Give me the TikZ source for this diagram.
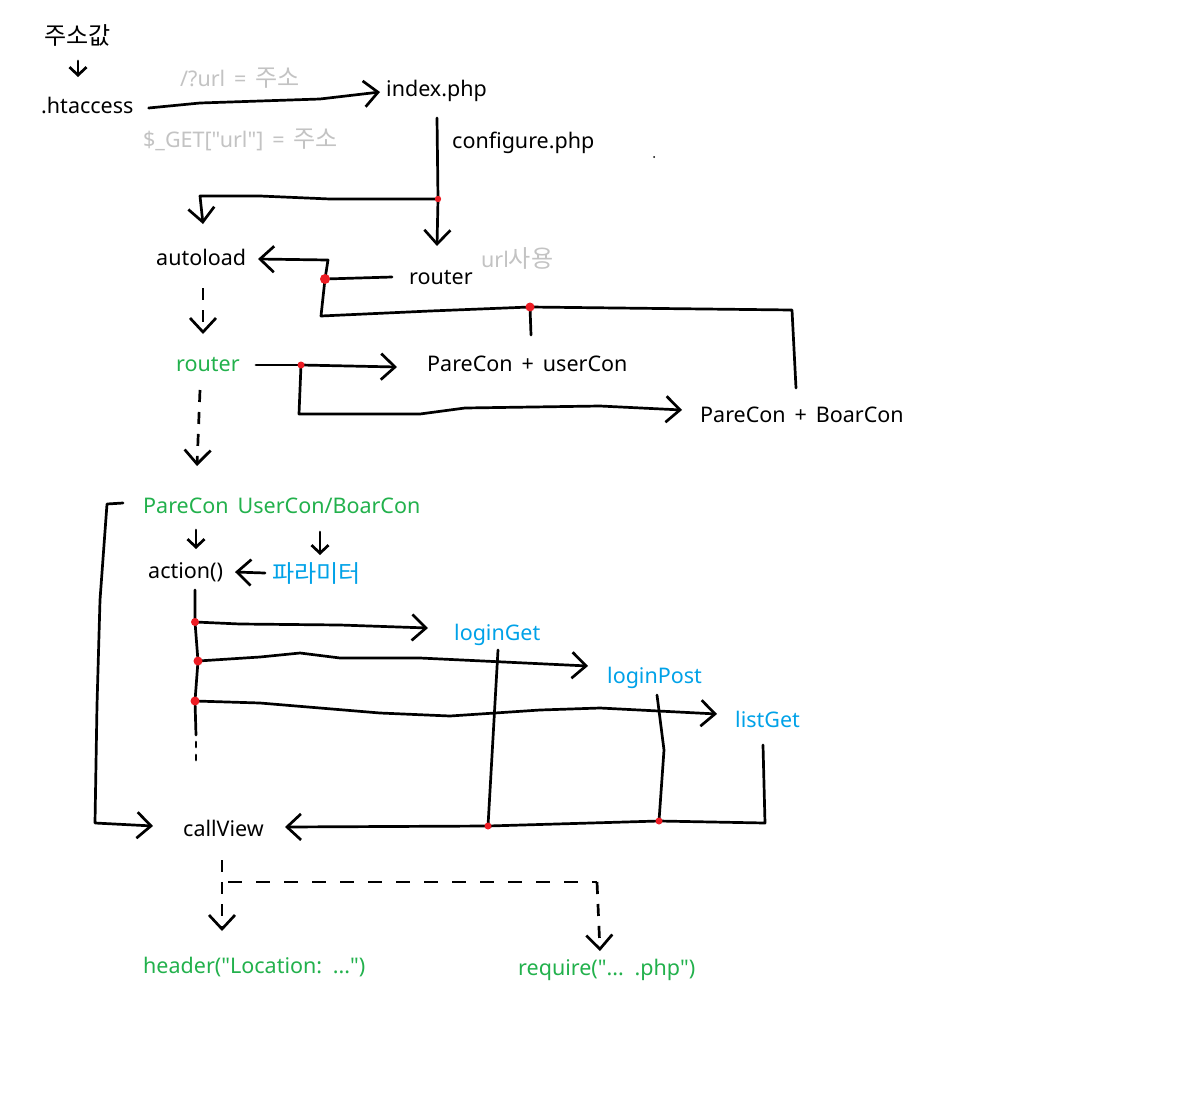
\documentclass[tikz,border=0pt]{standalone}
\usepackage{fontspec}
\setmainfont{Noto Sans}[WordSpace=1.6,Ligatures=TeXOff]
\newfontfamily\kr{Noto Sans CJK KR}[Scale=1.12]
\usetikzlibrary{arrows.meta}
\definecolor{pgreen}{HTML}{22B14C}
\definecolor{pblue}{HTML}{00A2E8}
\definecolor{pgray}{HTML}{C3C3C3}
\definecolor{pred}{HTML}{ED1C24}
\newcommand{\dq}{\char34\relax}
\tikzset{
  lbl/.style={anchor=west,inner sep=0pt,text height=15pt,text depth=5pt,yshift=-3pt,font=\fontsize{21.5}{25}\selectfont},
  wire/.style={line width=2.7pt,line join=round,line cap=round},
  arr/.style={wire,-{Straight Barb[length=14pt,width=26pt]}},
  sarr/.style={wire,-{Straight Barb[length=8pt,width=17pt]}},
  darr/.style={arr,dash pattern=on 12pt off 10pt,line cap=butt},
  jdot/.style={fill=pred,draw=none},
}
\begin{document}
\begin{tikzpicture}[x=1pt,y=-1pt]
\fill[white] (0,0) rectangle (1197,1114);
\useasboundingbox (0,0) rectangle (1197,1114);
% nodes
\node[lbl] (addr) at (44,36) {\kr 주소값};
\node[lbl] (hta) at (41,105) {.htaccess};
\node[lbl,text=pgray] (urlq) at (180,78) {/?url = {\kr 주소}};
\node[lbl,text=pgray] (get) at (143,139) {\$\_GET[\dq url\dq] = {\kr 주소}};
\node[lbl] (idx) at (386,88) {index.php};
\node[lbl] (conf) at (452,140) {configure.php};
\node[lbl] (auto) at (156,257) {autoload};
\node[lbl] (r1) at (409,276) {router};
\node[lbl,text=pgray] (urluse) at (481,259) {url{\kr 사용}};
\node[lbl,text=pgreen] (r2) at (176,363) {router};
\node[lbl] (puc) at (427,363) {PareCon + userCon};
\node[lbl] (pbc) at (700,414) {PareCon + BoarCon};
\node[lbl,text=pgreen] (pcb) at (143,505) {PareCon UserCon/BoarCon};
\node[lbl] (act) at (148,570) {action()};
\node[lbl,text=pblue] (param) at (272,574) {\kr 파라미터};
\node[lbl,text=pblue] (lg) at (454,632) {loginGet};
\node[lbl,text=pblue] (lp) at (607,675) {loginPost};
\node[lbl,text=pblue] (lsg) at (735,719) {listGet};
\node[lbl] (cv) at (183,828) {callView};
\node[lbl,text=pgreen] (hdr) at (143,965) {header(\dq Location: ...\dq)};
\node[lbl,text=pgreen] (req) at (518,967) {require(\dq... .php\dq)};
% junctions
\coordinate (J1) at (438,199);
\coordinate (J2) at (325,279);
\coordinate (J3) at (530,307);
\coordinate (J4) at (301,365);
\coordinate (K1) at (195,622);
\coordinate (K2) at (198,661);
\coordinate (K3) at (195,701);
\coordinate (L1) at (488,826);
\coordinate (L2) at (659,821);
\coordinate (E1) at (796,388);
\coordinate (E2) at (531,335);
\coordinate (D1) at (196,762);
\coordinate (M1) at (228,882);
% connectors
\draw[sarr] (78,61) -- (78,77);
\draw[arr] ([xshift=15pt]hta.east) -- (200,103) -- (260,101) -- (320,99) -- (380,92);
\draw[wire] (437,118) -- (J1);
\draw[arr] (J1) -- (437,246);
\draw[arr] (J1) -- (330,199) -- (260,196) -- (200,196) -- (203,224);
\draw[wire] (392,277) -- (J2);
\draw[arr] (J2) -- (328,260) -- (258,259);
\draw[wire] (J2) -- (321,316) -- (430,311) -- (J3) -- (792,310) -- (E1);
\draw[wire] (J3) -- (E2);
\draw[darr] (203,288) -- (203,334);
\draw[wire] (256,365) -- (J4);
\draw[arr] (J4) -- (397,367);
\draw[arr] (J4) -- (299,414) -- (420,414) -- (465,408) -- (600,406) -- (682,410);
\draw[darr] (200,390) -- (197,466);
\draw[arr] (123,503) -- (107,504) -- (100,600) -- (97,705) -- (95,823) -- (153,826);
\draw[sarr] (196,530) -- (196,549);
\draw[sarr] (320,532) -- (320,555);
\draw[arr] (265,573) -- (235,572);
\draw[wire] (195,590) -- (K1) -- (K2) -- (K3) -- (196,735);
\draw[wire,dash pattern=on 5pt off 8pt] (196,742) -- (D1);
\draw[arr] (K1) -- (240,624) -- (340,625) -- (428,628);
\draw[arr] (K2) -- (260,657) -- (300,653) -- (340,658) -- (420,658) -- (588,666);
\draw[arr] (K3) -- (260,703) -- (380,713) -- (450,716) -- (540,710) -- (600,708) -- (717,714);
\draw[wire] (498,650) -- (L1);
\draw[wire] (657,695) -- (664,750) -- (L2);
\draw[wire] (763,745) -- (765,823) -- (L2);
\draw[arr] (L2) -- (L1) -- (285,827);
\draw[darr] (222,860) -- (222,931);
\draw[wire,dash pattern=on 14pt off 14pt,line cap=butt] (M1) -- (597,882);
\draw[darr] (597,882) -- (600,951);
% red junction dots
\fill[jdot] (J1) circle (3.2pt);
\fill[jdot] (J2) circle (5pt);
\fill[jdot] (J3) circle (4.5pt);
\fill[jdot] (J4) circle (3.5pt);
\fill[jdot] (K1) circle (4pt);
\fill[jdot] (K2) circle (4.5pt);
\fill[jdot] (K3) circle (4.5pt);
\fill[jdot] (L1) circle (3.5pt);
\fill[jdot] (L2) circle (3.5pt);
\fill[black] (654,157) circle (1pt);
\end{tikzpicture}
\end{document}
